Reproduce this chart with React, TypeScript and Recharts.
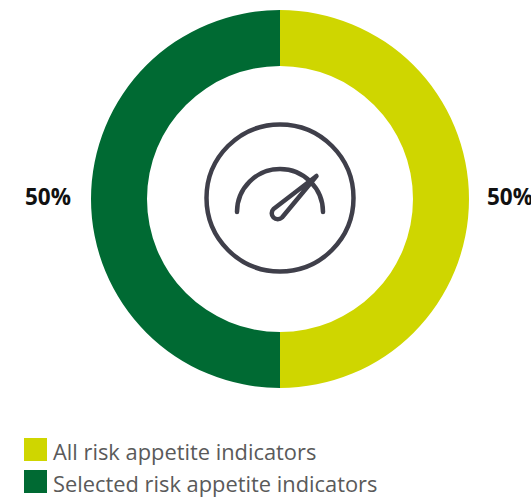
import React from 'react';
import { Cell, Legend, Pie, PieChart } from 'recharts';

const CATEGORIES = ['All risk appetite indicators', 'Selected risk appetite indicators'];
const VALUES = [50, 50];
const COLORS = ['#CFD600', '#006A33'];
const ICON_COLOR = '#3F3F4A';

const data = CATEGORIES.map((name, i) => ({ name, value: VALUES[i] }));

const RADIAN = Math.PI / 180;
const CX = 280;
const CY = 199;

const renderPercentLabel = ({ cx, cy, midAngle, outerRadius, value }: any) => {
  const radius = outerRadius + 42;
  const x = cx + radius * Math.cos(-midAngle * RADIAN);
  const y = cy + radius * Math.sin(-midAngle * RADIAN);
  return (
    <text
      x={x - 1}
      y={y - 3}
      fill="#111"
      textAnchor="middle"
      dominantBaseline="central"
      style={{ fontFamily: '"Open Sans", sans-serif', fontWeight: 700, fontSize: 22.5 }}
    >
      {`${value}%`}
    </text>
  );
};

const renderLegend = () => (
  <div style={{ fontFamily: '"Open Sans", sans-serif', fontSize: 21.85, color: '#5a5a5a' }}>
    {data.map((entry, index) => (
      <div key={entry.name} style={{ display: 'flex', alignItems: 'center', height: 32 }}>
        <span style={{ width: 23, height: 23, background: COLORS[index], marginRight: 6, flex: 'none' }} />
        <span style={{ whiteSpace: 'nowrap', position: 'relative', top: 2 }}>{entry.name}</span>
      </div>
    ))}
  </div>
);

// Speedometer glyph in the hole of the donut
const GaugeIcon = () => (
  <g fill="none" stroke={ICON_COLOR} strokeWidth={4.5} strokeLinecap="round" strokeLinejoin="round">
    <circle cx={CX} cy={198} r={73.5} />
    <path d="M237 212 A43 43 0 0 1 323 212" />
    <path d="M316.5 176 L282 217.5 A6 6 0 1 1 273.5 209 Z" />
  </g>
);

export default function App() {
  return (
    <div style={{ position: 'absolute', left: 0, top: 0, width: 531, height: 500, background: '#fff' }}>
      <PieChart width={531} height={500} margin={{ top: 0, right: 0, bottom: 0, left: 0 }}>
        <Pie
          data={data}
          dataKey="value"
          nameKey="name"
          cx={CX}
          cy={CY}
          innerRadius={133}
          outerRadius={189}
          startAngle={90}
          endAngle={-270}
          stroke="none"
          labelLine={false}
          label={renderPercentLabel}
          isAnimationActive={false}
        >
          {data.map((entry, index) => (
            <Cell key={`cell-${entry.name}`} fill={COLORS[index]} />
          ))}
        </Pie>
        <GaugeIcon />
        <Legend content={renderLegend} wrapperStyle={{ left: 24, top: 433, width: 400, bottom: 'auto' }} />
      </PieChart>
    </div>
  );
}
